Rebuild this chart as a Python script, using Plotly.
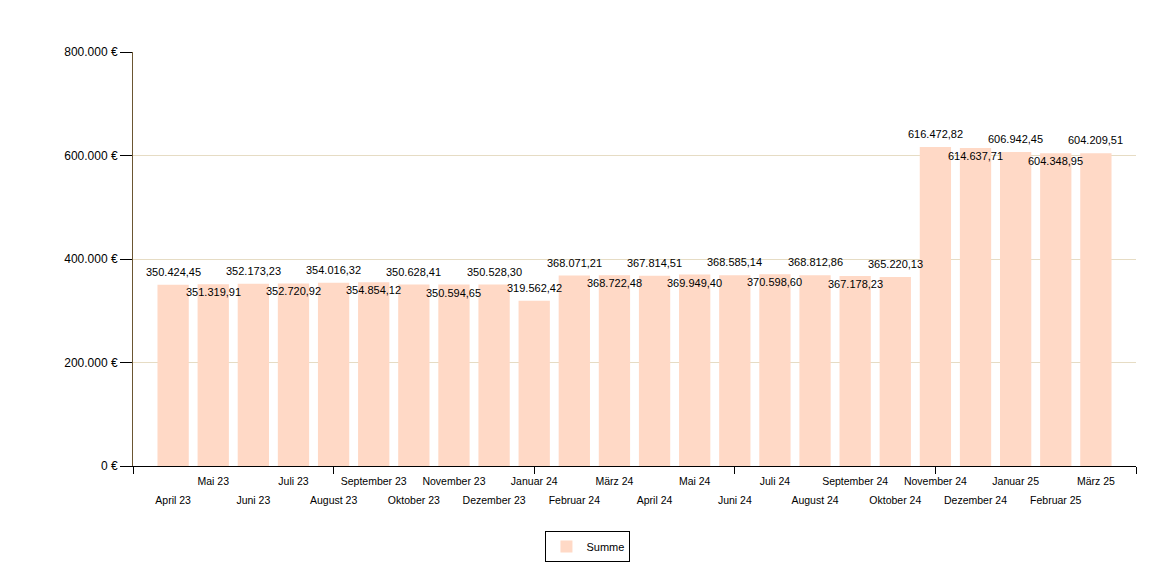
import plotly.graph_objects as go

# monthly totals
months = ['April 23', 'Mai 23', 'Juni 23', 'Juli 23', 'August 23', 'September 23',
          'Oktober 23', 'November 23', 'Dezember 23', 'Januar 24', 'Februar 24', 'März 24',
          'April 24', 'Mai 24', 'Juni 24', 'Juli 24', 'August 24', 'September 24',
          'Oktober 24', 'November 24', 'Dezember 24', 'Januar 25', 'Februar 25', 'März 25']
summe = [350424.45, 351319.91, 352173.23, 352720.92, 354016.32, 354854.12,
         350628.41, 350594.65, 350528.30, 319562.42, 368071.21, 368722.48,
         367814.51, 369949.40, 368585.14, 370598.60, 368812.86, 367178.23,
         365220.13, 616472.82, 614637.71, 606942.45, 604348.95, 604209.51]
y_ticks = [0, 200000, 400000, 600000, 800000]


def de_num(v, dec):
    s = f'{v:,.{dec}f}'
    return s.replace(',', 'X').replace('.', ',').replace('X', '.')


idx = list(range(len(months)))
font = 'Liberation Sans, Arial, sans-serif'

# label above the bar (True) or just inside its top (False), as the original chart placed them
above = [True, False, True, False, True, False, True, False, True, True, True, False,
         True, False, True, False, True, False, True, True, False, True, False, True]

fig = go.Figure()
fig.add_trace(go.Bar(x=idx, y=summe, name='Summe', marker_color='#FFD9C6',
                     marker_line_width=0, hoverinfo='y'))

for i, v in enumerate(summe):
    fig.add_annotation(x=i, y=v, xref='x', yref='y', text=de_num(v, 2),
                       showarrow=False, yanchor='middle', yshift=13 if above[i] else -8,
                       font=dict(family=font, size=11, color='black'))

odd = [i for i in idx if i % 2 == 1]
even = [i for i in idx if i % 2 == 0]

# page body has an 8px margin, so the figure is a bit smaller than the window
fig.update_layout(
    width=1148, height=555,
    margin=dict(l=125, r=20, t=44, b=97, autoexpand=False),
    paper_bgcolor='white', plot_bgcolor='white',
    bargap=0.22,
    font=dict(family=font, size=12, color='black'),
    xaxis=dict(range=[-1, 24], tickvals=odd, ticktext=[months[i] for i in odd],
               ticks='', showline=False, showgrid=False, zeroline=False,
               tickfont=dict(size=10.5), ticklabelstandoff=7),
    xaxis2=dict(range=[-1, 24], overlaying='x', side='bottom', anchor='y',
                tickvals=even, ticktext=[months[i] for i in even],
                ticks='', showline=False, showgrid=False, zeroline=False,
                tickfont=dict(size=10.5), ticklabelstandoff=26),
    xaxis3=dict(range=[-1, 24], overlaying='x', side='bottom', anchor='y',
                tickvals=[-1, 4, 9, 14, 19, 24], showticklabels=False,
                ticks='outside', ticklen=7, tickcolor='black',
                showline=True, linecolor='black', linewidth=1,
                showgrid=False, zeroline=False),
    yaxis=dict(range=[0, 800000], tickvals=y_ticks,
               ticktext=[de_num(t, 0) + ' €' for t in y_ticks],
               ticks='outside', ticklen=12, tickcolor='black',
               showline=True, linecolor='#6B5632', linewidth=1,
               gridcolor='#E6DCC4', gridwidth=1, zeroline=False,
               tickfont=dict(size=12)),
    legend=dict(orientation='h', x=0.4536, xanchor='center', y=-0.157, yanchor='top',
                bordercolor='black', borderwidth=1, font=dict(size=11)),
    showlegend=True,
)
# dummy traces to activate the extra axes
fig.add_trace(go.Scatter(x=[None], y=[None], xaxis='x2', showlegend=False, hoverinfo='skip'))
fig.add_trace(go.Scatter(x=[None], y=[None], xaxis='x3', showlegend=False, hoverinfo='skip'))

fig.write_html('out.html')
